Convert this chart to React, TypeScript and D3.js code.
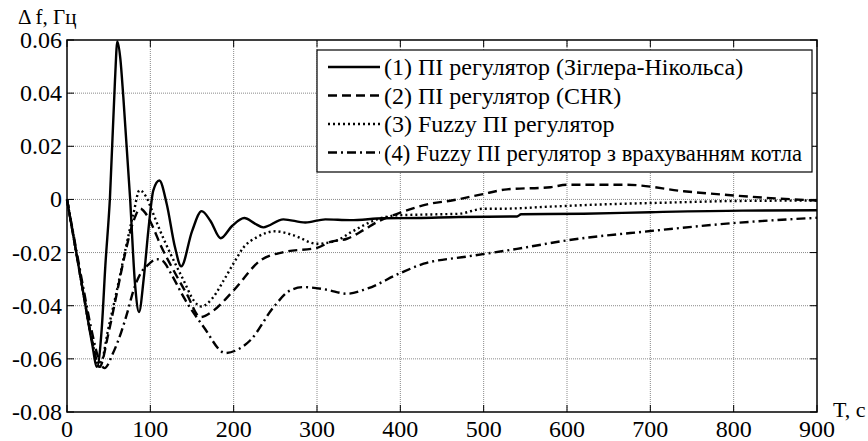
import React from "react";
import * as d3 from "d3";

const W = 868;
const H = 441;

const xTicks = [0, 100, 200, 300, 400, 500, 600, 700, 800, 900];
const yTicks = [0.06, 0.04, 0.02, 0, -0.02, -0.04, -0.06, -0.08];
const yTickLabels = ["0.06", "0.04", "0.02", "0", "-0.02", "-0.04", "-0.06", "-0.08"];

const seriesNames = [
  "(1) ПІ регулятор (Зіглера-Нікольса)",
  "(2) ПІ регулятор (CHR)",
  "(3) Fuzzy ПІ регулятор",
  "(4) Fuzzy ПІ регулятор з врахуванням котла",
];

const t1 = [0, 10, 20, 30, 36, 41.6, 46, 51.6, 57.6, 60.4, 64, 67.6, 75.6, 81.6, 86.4, 92, 97.6, 103.6, 110.8, 119.6, 129.6, 137, 150, 161.6, 172, 184.4, 198, 212.8, 225, 235.6, 259.6, 286, 310, 340, 380, 420, 470, 540, 545, 620, 700, 810, 900];
const v1 = [0, -0.018, -0.036, -0.054, -0.063, -0.049, -0.025, 0.001, 0.045, 0.0595, 0.053, 0.0385, 0.001, -0.0317, -0.0424, -0.03, -0.0117, 0.0034, 0.0071, -0.0016, -0.018, -0.0252, -0.012, -0.0044, -0.008, -0.0146, -0.01, -0.007, -0.009, -0.0105, -0.0075, -0.0087, -0.0075, -0.0078, -0.0071, -0.007, -0.0066, -0.0064, -0.0056, -0.0054, -0.0048, -0.0042, -0.0041];

const t2 = [0, 10, 20, 30, 39, 50, 60, 70, 80, 88, 96, 104, 112, 125, 143.6, 160, 175, 200, 232, 260, 300, 316, 336, 356, 372, 400, 436, 460, 496, 528, 580, 600, 672, 740, 800, 850, 900];
const v2 = [0, -0.018, -0.036, -0.053, -0.063, -0.05, -0.035, -0.02, -0.008, -0.0035, -0.006, -0.011, -0.017, -0.025, -0.0355, -0.0443, -0.042, -0.0342, -0.023, -0.0198, -0.0182, -0.016, -0.0148, -0.0115, -0.0085, -0.005, -0.0016, -0.0005, 0.0018, 0.0038, 0.0046, 0.0055, 0.0055, 0.0031, 0.0015, 0.0004, -0.0004];

const t3 = [0, 10, 20, 30, 39, 50, 60, 70, 80, 87, 95, 103, 112, 125, 140, 152, 161, 175, 188, 200, 212, 228, 250, 272, 300, 324, 340, 372, 396, 444, 470, 500, 520, 580, 640, 720, 800, 900];
const v3 = [0, -0.018, -0.036, -0.053, -0.063, -0.048, -0.034, -0.019, -0.005, 0.0035, 0.001, -0.005, -0.012, -0.021, -0.0305, -0.038, -0.0403, -0.037, -0.0305, -0.024, -0.018, -0.0142, -0.012, -0.0135, -0.0167, -0.0154, -0.0125, -0.0075, -0.006, -0.0056, -0.0054, -0.0035, -0.0035, -0.0027, -0.0019, -0.0012, -0.0006, -0.0004];

const t4 = [0, 10, 20, 30, 38, 45, 55, 65, 72, 80, 90, 96, 108, 115, 125, 140, 164, 190, 205, 220, 248, 268, 284, 312, 336, 360, 400, 428, 480, 540, 600, 700, 800, 900];
const v4 = [0, -0.017, -0.034, -0.05, -0.06, -0.0635, -0.058, -0.05, -0.043, -0.034, -0.027, -0.025, -0.0225, -0.0232, -0.028, -0.0368, -0.048, -0.0578, -0.0565, -0.053, -0.0405, -0.0342, -0.033, -0.034, -0.0355, -0.0336, -0.0277, -0.0242, -0.0215, -0.0186, -0.0154, -0.0119, -0.0089, -0.0069];

const seriesT = [t1, t2, t3, t4];
const seriesV = [v1, v2, v3, v4];
const dashes = ["none", "9,5", "2,3", "9,4,2,4"];

const FONT = "Liberation Serif";
const txt = { fontFamily: FONT, fill: "#000" } as React.CSSProperties;

export default function App() {
  const x = d3.scaleLinear().domain([0, 900]).range([67, 817]);
  const y = d3.scaleLinear().domain([-0.08, 0.06]).range([412, 40]);
  const line = d3
    .line<[number, number]>()
    .x((d) => x(d[0]))
    .y((d) => y(d[1]))
    .curve(d3.curveMonotoneX);

  const [x0, x1] = x.range();
  const [yb, yt] = y.range();
  const tickLen = 7;

  const legX = 317, legY = 50, legW = 495, legH = 122;
  const rowY = [67, 95.5, 124, 152.5];

  return (
    <svg width={W} height={H} style={{ position: "absolute", left: 0, top: 0, background: "#fff", fontFamily: FONT }}>
      <rect x={0} y={0} width={W} height={H} fill="#fff" />
      {xTicks.slice(1, -1).map((t) => (
        <line key={"gx" + t} x1={x(t)} x2={x(t)} y1={yb} y2={yt} stroke="#8a8a8a" strokeWidth={1} strokeDasharray="1,1" />
      ))}
      {yTicks.slice(1, -1).map((t) => (
        <line key={"gy" + t} x1={x0} x2={x1} y1={y(t)} y2={y(t)} stroke="#8a8a8a" strokeWidth={1} strokeDasharray="1,1" />
      ))}
      {seriesT.map((ts, i) => (
        <path
          key={"s" + i}
          d={line(ts.map((t, j) => [t, seriesV[i][j]] as [number, number])) || ""}
          fill="none"
          stroke="#000"
          strokeWidth={2.4}
          strokeDasharray={dashes[i]}
          strokeLinejoin="round"
        />
      ))}
      <rect x={x0} y={yt} width={x1 - x0} height={yb - yt} fill="none" stroke="#000" strokeWidth={1.5} />
      {xTicks.map((t) => (
        <g key={"tx" + t}>
          <line x1={x(t)} x2={x(t)} y1={yb} y2={yb - tickLen} stroke="#000" />
          <line x1={x(t)} x2={x(t)} y1={yt} y2={yt + tickLen} stroke="#000" />
          <text x={x(t)} y={437} textAnchor="middle" fontSize={24} style={txt}>{t}</text>
        </g>
      ))}
      {yTicks.map((t, i) => (
        <g key={"ty" + t}>
          <line x1={x0} x2={x0 + tickLen} y1={y(t)} y2={y(t)} stroke="#000" />
          <line x1={x1} x2={x1 - tickLen} y1={y(t)} y2={y(t)} stroke="#000" />
          <text x={62} y={y(t) + 8} textAnchor="end" fontSize={24} style={txt}>{yTickLabels[i]}</text>
        </g>
      ))}
      <text x={18} y={24} fontSize={21} style={txt}>Δ f, Гц</text>
      <text x={833} y={417} fontSize={22} style={txt}>T, c</text>
      <rect x={legX} y={legY} width={legW} height={legH} fill="#fff" stroke="#000" strokeWidth={1.2} />
      {seriesNames.map((n, i) => (
        <g key={"l" + i}>
          <line x1={328} x2={380} y1={rowY[i]} y2={rowY[i]} stroke="#000" strokeWidth={2.4} strokeDasharray={dashes[i]} />
          <text
            x={384}
            y={rowY[i] + 8}
            fontSize={24}
            style={txt}
            {...(i === 3 ? { textLength: 418, lengthAdjust: "spacingAndGlyphs" } : {})}
          >
            {n}
          </text>
        </g>
      ))}
    </svg>
  );
}
